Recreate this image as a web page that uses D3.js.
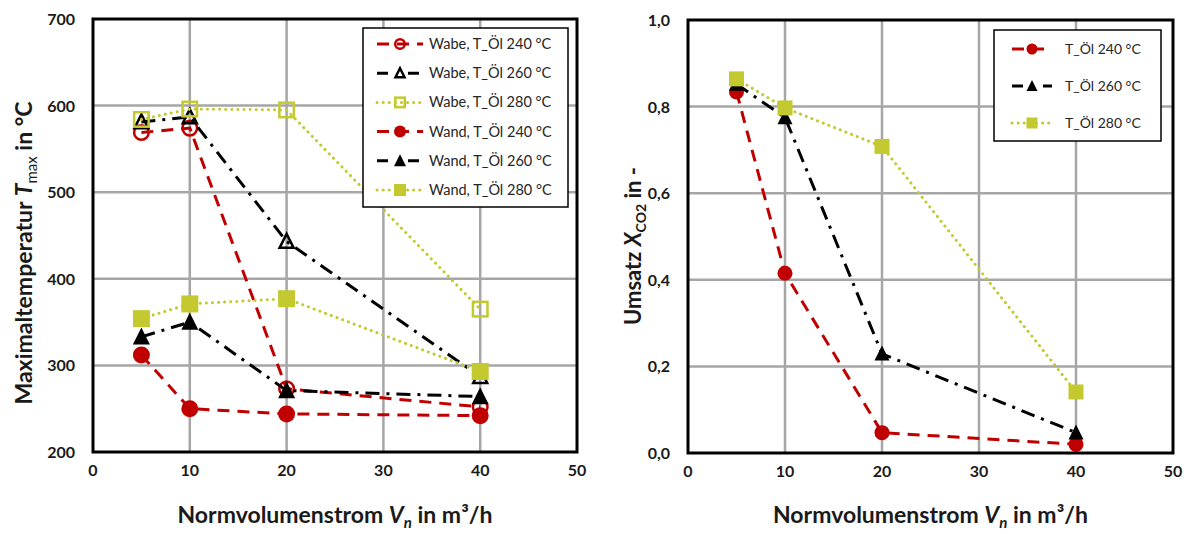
<!DOCTYPE html>
<html>
<head>
<meta charset="utf-8">
<script src="https://cdn.jsdelivr.net/npm/d3@7"></script>
<style>
  body { margin: 0; background: #fff; }
  svg { display: block; font-family: Lato, "Open Sans", sans-serif; }
</style>
</head>
<body>
<div id="chart"></div>
<script>
// x values (Normvolumenstrom in m3/h)
var flow = [5, 10, 20, 40];

// left chart: Maximaltemperatur
var wabe240 = [569, 574, 273, 252];
var wabe260 = [581, 587, 443, 287];
var wabe280 = [584, 596, 595, 365];
var wand240 = [312, 250, 244, 242];
var wand260 = [333, 350, 271, 264];
var wand280 = [354, 371, 377, 293];

// right chart: Umsatz X_CO2
var umsatz240 = [0.834, 0.415, 0.047, 0.020];
var umsatz260 = [0.852, 0.775, 0.229, 0.047];
var umsatz280 = [0.864, 0.797, 0.708, 0.141];

var xTicks = [0, 10, 20, 30, 40, 50];
var leftTicks = [200, 300, 400, 500, 600, 700];
var rightTicks = [0, 0.2, 0.4, 0.6, 0.8, 1.0];

var red = '#c00000', black = '#000000', olive = '#c3c92f';
var dashStyle = '12,8', dashDot = '14,7,3,7', dotStyle = '0.1,6';

var svg = d3.select('#chart').append('svg').attr('width', 1188).attr('height', 534);

function drawChart(opt) {
    var x = d3.scaleLinear().domain([0, 50]).range([opt.left, opt.right]);
    var y = d3.scaleLinear().domain(opt.yDomain).range([opt.bottom, opt.top]);
    var g = svg.append('g');

    // grid
    g.append('g').selectAll('line').data(xTicks.slice(1, -1)).enter().append('line')
        .attr('x1', function(d) { return x(d); }).attr('x2', function(d) { return x(d); })
        .attr('y1', opt.top).attr('y2', opt.bottom)
        .attr('stroke', '#a6a6a6').attr('stroke-width', 2.5);
    g.append('g').selectAll('line').data(opt.yTicks.slice(1, -1)).enter().append('line')
        .attr('y1', function(d) { return y(d); }).attr('y2', function(d) { return y(d); })
        .attr('x1', opt.left).attr('x2', opt.right)
        .attr('stroke', '#a6a6a6').attr('stroke-width', 2.5);

    // tick labels
    g.append('g').selectAll('text').data(xTicks).enter().append('text')
        .attr('x', function(d) { return x(d); }).attr('y', opt.bottom + 24)
        .attr('text-anchor', 'middle').style('font-size', '16px').style('font-weight', 'bold')
        .attr('fill', '#1a1a1a').text(function(d) { return d; });
    g.append('g').selectAll('text').data(opt.yTicks).enter().append('text')
        .attr('x', opt.left - 18).attr('y', function(d) { return y(d) + 6; })
        .attr('text-anchor', 'end').style('font-size', '16px').style('font-weight', 'bold')
        .attr('fill', '#1a1a1a').text(opt.yFormat);

    // series lines
    var line = d3.line().x(function(d) { return x(d[0]); }).y(function(d) { return y(d[1]); });
    opt.series.forEach(function(s) {
        g.append('path').datum(flow.map(function(f, i) { return [f, s.values[i]]; }))
            .attr('d', line).attr('fill', 'none')
            .attr('stroke', s.color).attr('stroke-width', 3)
            .attr('stroke-dasharray', s.dash)
            .attr('stroke-linecap', s.dash === dotStyle ? 'round' : 'butt');
        flow.forEach(function(f, i) {
            marker(g, s, x(f), y(s.values[i]), opt.msize);
        });
    });

    // frame
    g.append('rect').attr('x', opt.left).attr('y', opt.top)
        .attr('width', opt.right - opt.left).attr('height', opt.bottom - opt.top)
        .attr('fill', 'none').attr('stroke', '#000').attr('stroke-width', 3);

    // x title
    var xt = g.append('text').attr('x', (opt.left + opt.right) / 2).attr('y', 523)
        .attr('text-anchor', 'middle').style('font-size', '23px').style('font-weight', 'bold')
        .attr('fill', '#1a1a1a');
    xt.append('tspan').text('Normvolumenstrom ');
    xt.append('tspan').style('font-style', 'italic').text('V');
    xt.append('tspan').style('font-style', 'italic').style('font-size', '15px').attr('dy', 5).text('n');
    xt.append('tspan').attr('dy', -5).text(' in m³/h');

    // y title
    var yt = g.append('text')
        .attr('transform', 'translate(' + opt.yTitleX + ',' + opt.yTitleY + ') rotate(-90)')
        .attr('text-anchor', 'middle').style('font-size', opt.yTitleSize).style('font-weight', 'bold')
        .attr('fill', '#1a1a1a');
    opt.yTitle(yt);

    // legend
    var lg = g.append('g');
    lg.append('rect').attr('x', opt.legend.x).attr('y', opt.legend.y)
        .attr('width', opt.legend.w).attr('height', opt.legend.h)
        .attr('fill', '#fff').attr('stroke', '#000').attr('stroke-width', 1.5);
    opt.series.forEach(function(s, i) {
        var ly = opt.legend.y + opt.legend.first + i * opt.legend.step;
        lg.append('line').attr('x1', opt.legend.l1).attr('x2', opt.legend.l2)
            .attr('y1', ly).attr('y2', ly)
            .attr('stroke', s.color).attr('stroke-width', 3)
            .attr('stroke-dasharray', s.dash === dashDot ? '11,20' : s.dash)
            .attr('stroke-linecap', s.dash === dotStyle ? 'round' : 'butt');
        marker(lg, s, (opt.legend.l1 + opt.legend.l2) / 2, ly, opt.legend.msize);
        lg.append('text').attr('x', opt.legend.tx).attr('y', ly + 5)
            .style('font-size', opt.legend.fs).attr('fill', '#262626').text(s.name);
    });
}

function marker(g, s, cx, cy, size) {
    var fill = s.open ? 'none' : s.color;
    var stroke = s.color;
    var sw = s.open ? 2.5 : 0;
    var r = size / 2;
    if (s.shape === 'circle') {
        g.append('circle').attr('cx', cx).attr('cy', cy).attr('r', s.open ? r - 1.2 : r)
            .attr('fill', fill).attr('stroke', stroke).attr('stroke-width', sw);
    } else if (s.shape === 'square') {
        var a = s.open ? size - 2.5 : size;
        g.append('rect').attr('x', cx - a / 2).attr('y', cy - a / 2).attr('width', a).attr('height', a)
            .attr('fill', fill).attr('stroke', stroke).attr('stroke-width', sw);
    } else {
        var h = s.open ? size - 3 : size;
        g.append('path')
            .attr('d', 'M' + cx + ',' + (cy - h * 0.55) + 'L' + (cx + h / 2) + ',' + (cy + h * 0.45) +
                'L' + (cx - h / 2) + ',' + (cy + h * 0.45) + 'Z')
            .attr('fill', fill).attr('stroke', stroke).attr('stroke-width', sw)
            .attr('stroke-linejoin', 'miter');
    }
}

drawChart({
    left: 93, right: 577, top: 19, bottom: 452,
    yDomain: [200, 700], yTicks: leftTicks,
    yFormat: function(d) { return d; },
    msize: 17,
    yTitleX: 32, yTitleY: 253, yTitleSize: '23px',
    yTitle: function(t) {
        t.append('tspan').text('Maximaltemperatur ');
        t.append('tspan').style('font-style', 'italic').text('T');
        t.append('tspan').style('font-size', '15px').style('font-weight', 'normal').attr('dy', 5).text('max');
        t.append('tspan').attr('dy', -5).text(' in °C');
    },
    legend: { x: 363, y: 28, w: 205, h: 179, first: 16, step: 29.2,
              l1: 377, l2: 423, tx: 429, msize: 12, fs: '14.5px' },
    series: [
        { name: 'Wabe, T_Öl 240 °C', values: wabe240, color: red, dash: dashStyle, shape: 'circle', open: true },
        { name: 'Wabe, T_Öl 260 °C', values: wabe260, color: black, dash: dashDot, shape: 'triangle', open: true },
        { name: 'Wabe, T_Öl 280 °C', values: wabe280, color: olive, dash: dotStyle, shape: 'square', open: true },
        { name: 'Wand, T_Öl 240 °C', values: wand240, color: red, dash: dashStyle, shape: 'circle', open: false },
        { name: 'Wand, T_Öl 260 °C', values: wand260, color: black, dash: dashDot, shape: 'triangle', open: false },
        { name: 'Wand, T_Öl 280 °C', values: wand280, color: olive, dash: dotStyle, shape: 'square', open: false }
    ]
});

drawChart({
    left: 688, right: 1173, top: 20, bottom: 453,
    yDomain: [0, 1], yTicks: rightTicks,
    yFormat: function(d) { return d.toFixed(1).replace('.', ','); },
    msize: 15,
    yTitleX: 641, yTitleY: 246, yTitleSize: '22px',
    yTitle: function(t) {
        t.append('tspan').text('Umsatz ');
        t.append('tspan').style('font-style', 'italic').text('X');
        t.append('tspan').style('font-size', '14px').attr('dy', 5).text('CO2');
        t.append('tspan').attr('dy', -5).text(' in -');
    },
    legend: { x: 994, y: 30, w: 167, h: 111, first: 19, step: 37,
              l1: 1012, l2: 1052, tx: 1065, msize: 11, fs: '14px' },
    series: [
        { name: 'T_Öl 240 °C', values: umsatz240, color: red, dash: dashStyle, shape: 'circle', open: false },
        { name: 'T_Öl 260 °C', values: umsatz260, color: black, dash: dashDot, shape: 'triangle', open: false },
        { name: 'T_Öl 280 °C', values: umsatz280, color: olive, dash: dotStyle, shape: 'square', open: false }
    ]
});
</script>
</body>
</html>
